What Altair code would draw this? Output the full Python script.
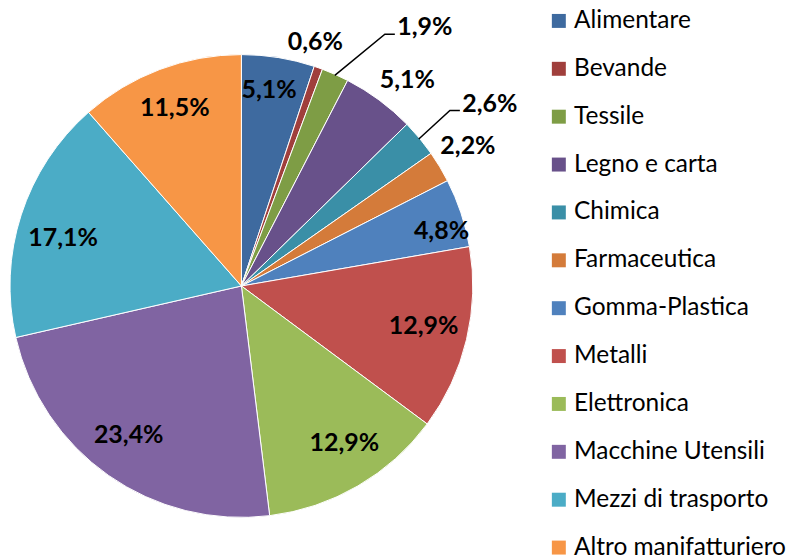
import math
import altair as alt
import pandas as pd

# ---- data -------------------------------------------------------------
categories = ["Alimentare", "Bevande", "Tessile", "Legno e carta", "Chimica",
              "Farmaceutica", "Gomma-Plastica", "Metalli", "Elettronica",
              "Macchine Utensili", "Mezzi di trasporto", "Altro manifatturiero"]
values = [5.1, 0.6, 1.9, 5.1, 2.6, 2.2, 4.8, 12.9, 12.9, 23.4, 17.1, 11.5]
colors = ["#3E6A9F", "#A03F3C", "#7E9D45", "#68518A", "#3A8FA7", "#D47B3A",
          "#4F81BD", "#C0504D", "#9BBB59", "#8064A2", "#4BACC6", "#F79646"]

# ---- label placement style (radius in px, angular nudge in degrees) -----
label_radius = [198, 256, 318, 265, 309, 267, 208, 187, 188, 187, 185, 191]
label_nudge = [-1.1, -2.6, 11.4, 2.4, 3.35, -0.7, 3.1, -1.1, -3.1, 2.1, -2.9, 0.2]
leader_cats = ["Tessile", "Chimica"]

W, H = 468, 550
CX, CY = W / 2, H / 2
R = 232

total = sum(values)
rows, leaders = [], []
cum = 0.0
for i, (c, v) in enumerate(zip(categories, values)):
    mid = (cum + v / 2) / total * 360
    cum += v
    ang = math.radians(mid + label_nudge[i])
    lx = CX + label_radius[i] * math.sin(ang)
    ly = CY - label_radius[i] * math.cos(ang)
    lab = f"{v:.1f}".replace(".", ",") + "%"
    rows.append(dict(category=c, value=v, order=i, label=lab, lx=lx, ly=ly))
    if c in leader_cats:
        m = math.radians(mid)
        pts = [(CX + (R - 1) * math.sin(m), CY - (R - 1) * math.cos(m)),
               (lx - 40, ly + 7), (lx - 30, ly + 7)]
        for k, (px, py) in enumerate(pts):
            leaders.append(dict(grp=c, k=k, px=px, py=py))

df = pd.DataFrame(rows)
ldf = pd.DataFrame(leaders)

arcs = alt.Chart(df).mark_arc(outerRadius=R, stroke="white", strokeWidth=1).encode(
    theta=alt.Theta("value:Q", stack=True),
    order=alt.Order("order:Q"),
    color=alt.Color("category:N",
                    scale=alt.Scale(domain=categories, range=colors),
                    legend=alt.Legend(title=None, orient="none", legendX=540, legendY=-3,
                                      symbolType="square", symbolSize=196,
                                      symbolStrokeWidth=0, labelFont="Lato",
                                      labelFontSize=24.5, labelColor="black",
                                      rowPadding=23, labelOffset=3, padding=0,
                                      labelLimit=320)),
)

texts = alt.Chart(df).mark_text(font="Lato", fontWeight="bold", fontSize=25,
                                color="black", align="center", baseline="middle").encode(
    x=alt.X("lx:Q", scale=None, axis=None),
    y=alt.Y("ly:Q", scale=None, axis=None),
    text="label:N",
)

lines = alt.Chart(ldf).mark_line(color="black", strokeWidth=1.5).encode(
    x=alt.X("px:Q", scale=None, axis=None),
    y=alt.Y("py:Q", scale=None, axis=None),
    detail="grp:N",
    order="k:Q",
)

chart = alt.layer(arcs, lines, texts).properties(
    width=W, height=H, padding=0, background="white"
).configure_view(stroke=None)

chart.save("out.html", embed_options={"renderer": "svg", "actions": False})
